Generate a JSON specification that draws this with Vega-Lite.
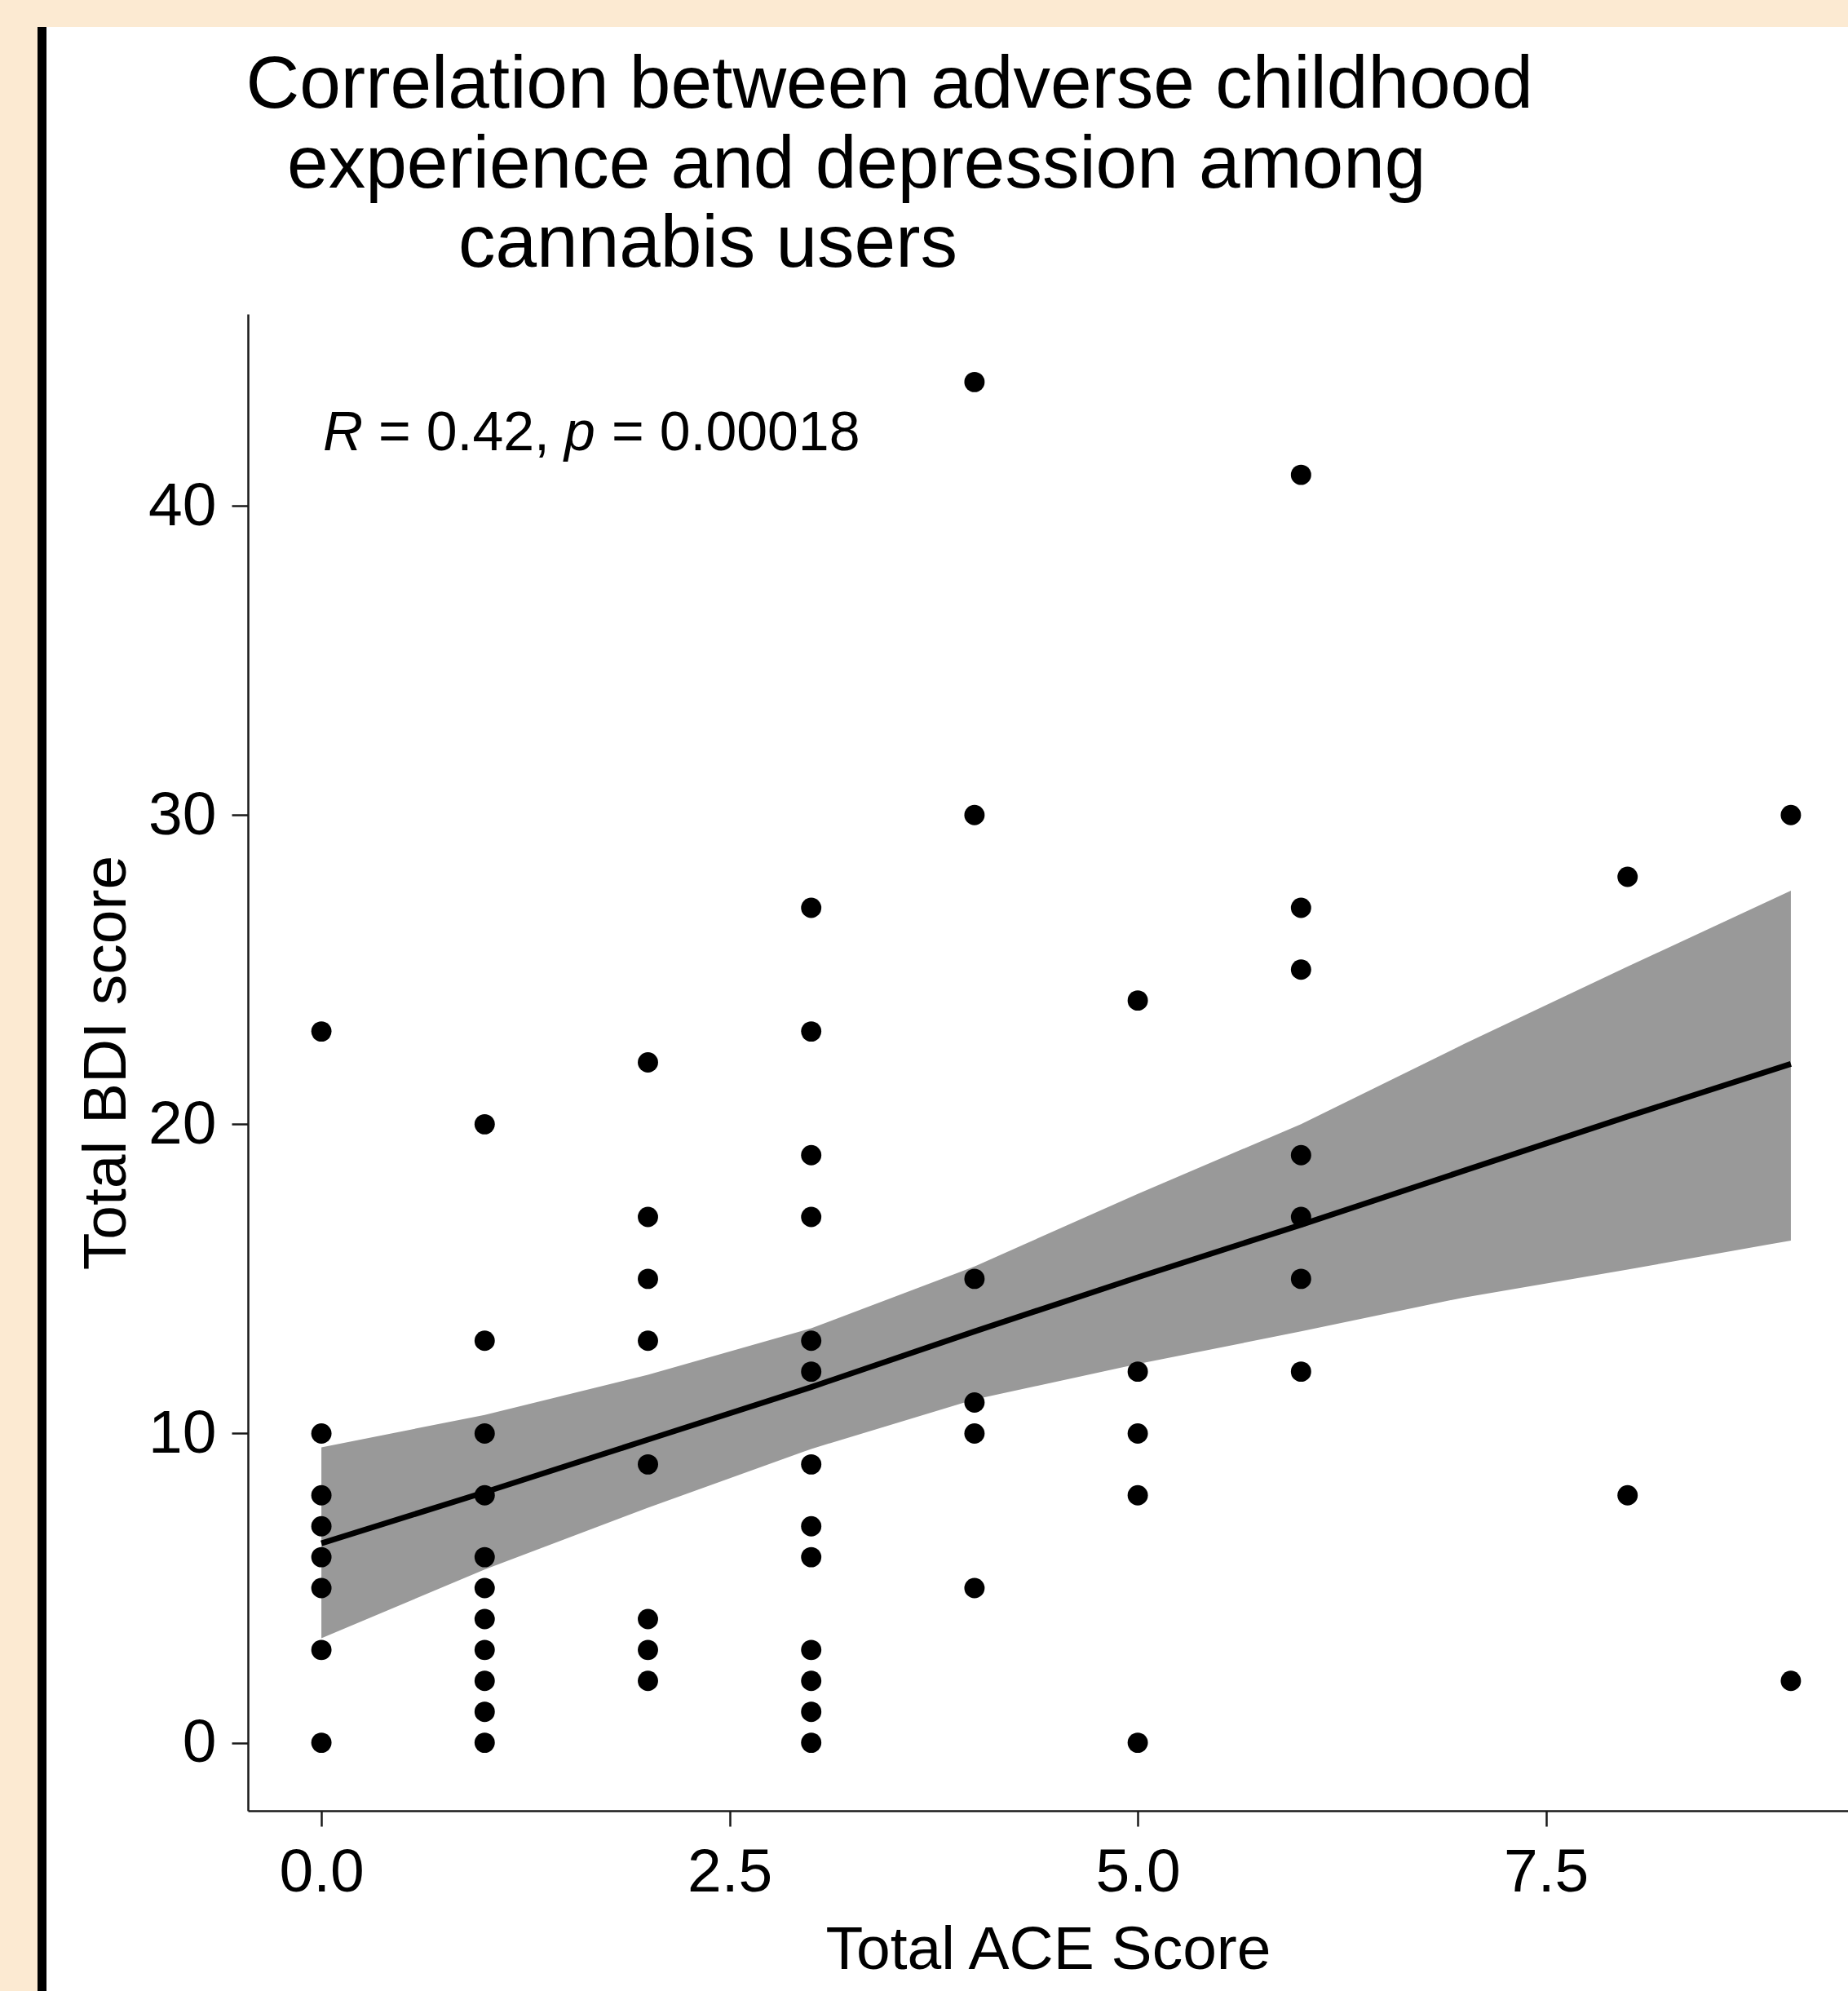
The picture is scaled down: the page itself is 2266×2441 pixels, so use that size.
{
  "$schema": "https://vega.github.io/schema/vega-lite/v6.json",
  "autosize": {"type": "pad"},
  "padding": {"left": 46, "top": 33, "right": 0, "bottom": 0},
  "background": "#FCEAD2",
  "config": {"font": "Liberation Sans"},
  "title": {
    "text": ["Correlation between adverse childhood", "\u200b\u00a0\u00a0experience and depression among", "\u200b\u00a0\u00a0\u00a0\u00a0\u00a0\u00a0\u00a0\u00a0\u00a0\u00a0\u200acannabis users"],
    "anchor": "start", "frame": "group", "align": "left", "orient": "top",
    "fontSize": 91, "fontWeight": "normal", "color": "black",
    "lineHeight": 97.5, "offset": 0, "dx": 255.5, "dy": 313
  },
  "datasets": {
    "points": [
      {"ace": 0, "bdi": 23}, {"ace": 0, "bdi": 10}, {"ace": 0, "bdi": 8}, {"ace": 0, "bdi": 7}, {"ace": 0, "bdi": 6}, {"ace": 0, "bdi": 5}, {"ace": 0, "bdi": 3}, {"ace": 0, "bdi": 0},
      {"ace": 1, "bdi": 20}, {"ace": 1, "bdi": 13}, {"ace": 1, "bdi": 10}, {"ace": 1, "bdi": 8}, {"ace": 1, "bdi": 6}, {"ace": 1, "bdi": 5}, {"ace": 1, "bdi": 4}, {"ace": 1, "bdi": 3}, {"ace": 1, "bdi": 2}, {"ace": 1, "bdi": 1}, {"ace": 1, "bdi": 0},
      {"ace": 2, "bdi": 22}, {"ace": 2, "bdi": 17}, {"ace": 2, "bdi": 15}, {"ace": 2, "bdi": 13}, {"ace": 2, "bdi": 9}, {"ace": 2, "bdi": 4}, {"ace": 2, "bdi": 3}, {"ace": 2, "bdi": 2},
      {"ace": 3, "bdi": 27}, {"ace": 3, "bdi": 23}, {"ace": 3, "bdi": 19}, {"ace": 3, "bdi": 17}, {"ace": 3, "bdi": 13}, {"ace": 3, "bdi": 12}, {"ace": 3, "bdi": 9}, {"ace": 3, "bdi": 7}, {"ace": 3, "bdi": 6}, {"ace": 3, "bdi": 3}, {"ace": 3, "bdi": 2}, {"ace": 3, "bdi": 1}, {"ace": 3, "bdi": 0},
      {"ace": 4, "bdi": 44}, {"ace": 4, "bdi": 30}, {"ace": 4, "bdi": 15}, {"ace": 4, "bdi": 11}, {"ace": 4, "bdi": 10}, {"ace": 4, "bdi": 5},
      {"ace": 5, "bdi": 24}, {"ace": 5, "bdi": 12}, {"ace": 5, "bdi": 10}, {"ace": 5, "bdi": 8}, {"ace": 5, "bdi": 0},
      {"ace": 6, "bdi": 41}, {"ace": 6, "bdi": 27}, {"ace": 6, "bdi": 25}, {"ace": 6, "bdi": 19}, {"ace": 6, "bdi": 17}, {"ace": 6, "bdi": 15}, {"ace": 6, "bdi": 12},
      {"ace": 8, "bdi": 28}, {"ace": 8, "bdi": 8},
      {"ace": 9, "bdi": 30}, {"ace": 9, "bdi": 2}
    ],
    "fit": [
      {"ace": 0, "lower": 3.38, "upper": 9.55, "fit": 6.45},
      {"ace": 1, "lower": 5.6, "upper": 10.6, "fit": 8.1},
      {"ace": 2, "lower": 7.6, "upper": 11.9, "fit": 9.8},
      {"ace": 3, "lower": 9.5, "upper": 13.4, "fit": 11.5},
      {"ace": 4, "lower": 11.1, "upper": 15.4, "fit": 13.3},
      {"ace": 5, "lower": 12.25, "upper": 17.75, "fit": 15.05},
      {"ace": 6, "lower": 13.3, "upper": 20.0, "fit": 16.75},
      {"ace": 7, "lower": 14.4, "upper": 22.6, "fit": 18.5},
      {"ace": 8, "lower": 15.3, "upper": 25.1, "fit": 20.25},
      {"ace": 9, "lower": 16.24, "upper": 27.55, "fit": 21.95}
    ]
  },
  "hconcat": [
    {
      "width": 11, "height": 2408,
      "view": {"fill": "black", "stroke": null},
      "data": {"values": []},
      "mark": {"type": "text", "opacity": 0},
      "encoding": {}
    },
    {
      "width": 2209, "height": 2408,
      "view": {"fill": "white", "stroke": null},
      "layer": [
        {
          "data": {"name": "fit"},
          "mark": {"type": "area", "color": "#999999", "opacity": 1},
          "encoding": {
            "x": {"field": "ace", "type": "quantitative",
              "scale": {"domain": [-0.45, 9.35], "range": [247, 2209], "nice": false, "zero": false},
              "axis": {"orient": "bottom", "offset": -221, "values": [0, 2.5, 5, 7.5], "format": ".1f",
                "title": "Total ACE Score", "titleFontSize": 75, "titleFontWeight": "normal", "titleColor": "black", "titlePadding": 21,
                "labelFontSize": 75, "labelColor": "black", "labelPadding": 20, "labelFlush": false, "labelOverlap": false,
                "tickSize": 19, "tickWidth": 2.5, "tickColor": "#1a1a1a", "domainColor": "#1a1a1a", "domainWidth": 2.5, "grid": false}},
            "y": {"field": "lower", "type": "quantitative",
              "scale": {"domain": [-2.2, 46.2], "range": [2187, 352], "nice": false, "zero": false},
              "axis": {"orient": "left", "offset": -247, "values": [0, 10, 20, 30, 40],
                "title": "Total BDI score", "titleFontSize": 75, "titleFontWeight": "normal", "titleColor": "black", "titlePadding": 12,
                "labelFontSize": 75, "labelColor": "black", "labelPadding": 19, "labelFlush": false, "labelOverlap": false,
                "tickSize": 20, "tickWidth": 2.5, "tickColor": "#1a1a1a", "domainColor": "#1a1a1a", "domainWidth": 2.5, "grid": false}},
            "y2": {"field": "upper"}
          }
        },
        {
          "data": {"name": "fit"},
          "mark": {"type": "line", "color": "black", "strokeWidth": 7, "opacity": 1},
          "encoding": {
            "x": {"field": "ace", "type": "quantitative"},
            "y": {"field": "fit", "type": "quantitative"}
          }
        },
        {
          "data": {"name": "points"},
          "mark": {"type": "circle", "color": "black", "size": 620, "opacity": 1},
          "encoding": {
            "x": {"field": "ace", "type": "quantitative"},
            "y": {"field": "bdi", "type": "quantitative"}
          }
        },
        {
          "data": {"values": [{"label": "R"}]},
          "mark": {"type": "text", "align": "left", "baseline": "alphabetic", "fontSize": 68, "fontStyle": "italic", "color": "black", "dx": 2},
          "encoding": {"x": {"datum": 0, "type": "quantitative"}, "y": {"datum": 41.8, "type": "quantitative"}, "text": {"field": "label"}}
        },
        {
          "data": {"values": [{"label": "= 0.42,"}]},
          "mark": {"type": "text", "align": "left", "baseline": "alphabetic", "fontSize": 68, "color": "black", "dx": 70},
          "encoding": {"x": {"datum": 0, "type": "quantitative"}, "y": {"datum": 41.8, "type": "quantitative"}, "text": {"field": "label"}}
        },
        {
          "data": {"values": [{"label": "p"}]},
          "mark": {"type": "text", "align": "left", "baseline": "alphabetic", "fontSize": 68, "fontStyle": "italic", "color": "black", "dx": 298},
          "encoding": {"x": {"datum": 0, "type": "quantitative"}, "y": {"datum": 41.8, "type": "quantitative"}, "text": {"field": "label"}}
        },
        {
          "data": {"values": [{"label": "= 0.00018"}]},
          "mark": {"type": "text", "align": "left", "baseline": "alphabetic", "fontSize": 68, "color": "black", "dx": 356},
          "encoding": {"x": {"datum": 0, "type": "quantitative"}, "y": {"datum": 41.8, "type": "quantitative"}, "text": {"field": "label"}}
        }
      ]
    }
  ],
  "spacing": 0
}
